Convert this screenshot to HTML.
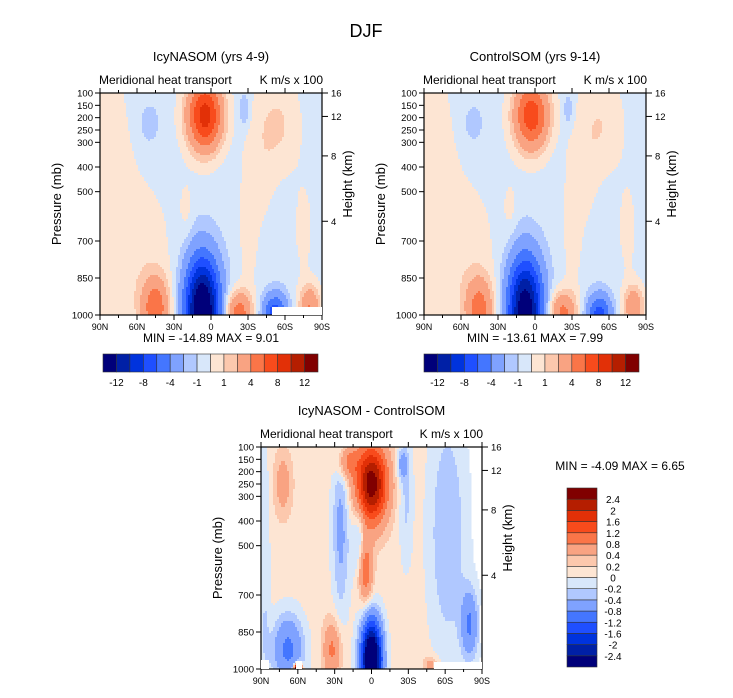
<!DOCTYPE html>
<html><head><meta charset="utf-8">
<style>
body{margin:0;background:#fff;}
svg text{font-family:"Liberation Sans",sans-serif;fill:#000;}
</style></head>
<body>
<svg id="fig" width="733" height="693" viewBox="0 0 733 693" xmlns="http://www.w3.org/2000/svg">
<rect width="733" height="693" fill="#fff"/>
<text x="366" y="37" font-size="18" text-anchor="middle">DJF</text>
<g id="root"></g>
</svg>
<script>
// colour palette (16 classes, low -> high)
const palette = ["#00007a","#0020a6","#0033dd","#1f4fff","#4476ff","#7fa2ff","#b0c8ff","#d8e7fa","#fde5d3","#fcc8ad","#f9a382","#fa7548","#f84b1c","#e23007","#b51e00","#800000"];
// contour level boundaries
const levelsFull = [-12,-10,-8,-6,-4,-2,-1,0,1,2,4,6,8,10,12];
const levelsDiff = [-2.4,-2,-1.6,-1.2,-0.8,-0.4,-0.2,0,0.2,0.4,0.8,1.2,1.6,2,2.4];
const fullLabels = ["-12","-8","-4","-1","1","4","8","12"];
const diffLabels = ["2.4","2","1.6","1.2","0.8","0.4","0.2","0","-0.2","-0.4","-0.8","-1.2","-1.6","-2","-2.4"];
const latTicks = [90,60,30,0,-30,-60,-90];
const latLabels = ["90N","60N","30N","0","30S","60S","90S"];
const presTicks = [100,150,200,250,300,400,500,700,850,1000];
const heightTicks = [16,12,8,4];
const heightPres = [100,195,355,620];
// field features: [lat, pressure, amplitude, lat-width, pressure-width]
const icyBase = -0.5;
const icyBlobs = [[82,550,1.2,12,450],[55,780,1.0,18,250],[-55,230,1.6,12,140],[-40,400,0.8,8,200],[-30,650,1.0,5,220],[20,570,0.8,4,80],[-75,650,0.8,6,150],
[5,190,9.5,10,100],[7,980,-15,10,150],[45,975,5.5,8,90],[-22,990,5.5,8,60],[-52,1000,-7,7,60],[-80,965,4.5,6,60],[50,225,-1.6,5,50],[-27,170,-1.6,3,50]];
const ctlBase = -0.5;
const ctlBlobs = [[82,550,1.2,12,450],[55,780,1.0,18,250],[-55,230,1.4,12,140],[-40,400,0.8,8,200],[-30,650,1.0,5,220],[20,570,0.8,4,80],[-75,650,0.8,6,150],
[3,190,7.8,10,100],[8,980,-13.5,10,150],[45,975,5,8,90],[-22,990,5,8,60],[-52,1000,-6.5,7,60],[-80,965,4,6,60],[50,225,-1.4,5,50],[-27,170,-1.4,3,50]];
const diffBase = 0.1;
const diffBlobs = [[0,250,2.6,9,110],[20,160,0.8,6,50],[0,960,-3.6,6,110],[25,420,-0.6,5,260],[10,470,-0.55,4,120],[5,600,1.1,4,90],[32,920,0.8,5,80],
[68,920,-1.0,9,100],[60,1000,4,2,15],[72,250,0.5,5,90],[-80,820,-0.9,5,100],[-62,450,-0.5,11,350],[-25,170,-0.6,3,40],[-48,985,0.5,4,25],[87,600,-0.3,3,400],[-28,300,-0.35,4,200]];

const NS="http://www.w3.org/2000/svg";
const root=document.getElementById('root');
function mk(tag,attrs,parent){const e=document.createElementNS(NS,tag);for(const k in attrs)e.setAttribute(k,attrs[k]);(parent||root).appendChild(e);return e;}

function field(base,blobs,lat,p){let v=base;for(const b of blobs){const dx=(lat-b[0])/b[3],dy=(p-b[1])/b[4];v+=b[2]*Math.exp(-0.5*(dx*dx+dy*dy));}return v;}
function cls(levels,v){let i=0;while(i<levels.length&&v>=levels[i])i++;return i;}

function panel(name,L,T,W,H,base,blobs,levels,title){
  const g=mk('g',{});
  
  
  const xOf=lat=>L+(90-lat)/180*W;
  const yOf=p=>T+(p-100)/900*H;
  const cs=2;
  const fg=mk('g',{},g);
  
  
  for(let y=0;y<H;y+=cs){
    const p=100+(y+cs/2)/H*900;
    let runStart=0,runC=-1;
    for(let x=0;x<=W;x+=cs){
      let c=-2;
      if(x<W){const lat=90-(x+cs/2)/W*180;c=cls(levels,field(base,blobs,lat,p));}
      if(c!==runC){
        if(runC>=0){const r=mk('rect',{x:L+runStart,y:T+y,width:x-runStart+0.5,height:cs+0.5,fill:palette[runC]},fg);
          
          }
        runStart=x;runC=c;
      }
    }
  }
  const fr=mk('rect',{x:L,y:T,width:W,height:H,fill:'none',stroke:'#000','stroke-width':1.2},g);
  
  
  latTicks.forEach((lt,i)=>{
    const x=xOf(lt);
    mk('line',{x1:x,y1:T+H,x2:x,y2:T+H+5,stroke:'#000'},g);
    mk('line',{x1:x,y1:T,x2:x,y2:T-5,stroke:'#000'},g);
    const t=mk('text',{x:x,y:T+H+15,'font-size':9,'text-anchor':'middle'},g);t.textContent=latLabels[i];
    
    
  });
  for(let lt=75;lt>-90;lt-=15){if(lt%30===0)continue;const x=xOf(lt);
    mk('line',{x1:x,y1:T+H,x2:x,y2:T+H+3,stroke:'#000'},g);mk('line',{x1:x,y1:T,x2:x,y2:T-3,stroke:'#000'},g);}
  presTicks.forEach(p=>{
    const y=yOf(p);
    mk('line',{x1:L,y1:y,x2:L-5,y2:y,stroke:'#000'},g);
    const t=mk('text',{x:L-7,y:y+3.5,'font-size':9.5,'text-anchor':'end'},g);t.textContent=p;
    
    
  });
  heightTicks.forEach((h,i)=>{
    const y=yOf(heightPres[i]);
    mk('line',{x1:L+W,y1:y,x2:L+W+6,y2:y,stroke:'#000'},g);
    const t=mk('text',{x:L+W+9,y:y+3.5,'font-size':9.5},g);t.textContent=h;
    
    
  });
  const yt=mk('text',{x:0,y:0,'font-size':13,'text-anchor':'middle',transform:`translate(${L-39},${T+H/2}) rotate(-90)`},g);yt.textContent='Pressure (mb)';
  
  
  const ht=mk('text',{x:0,y:0,'font-size':13,'text-anchor':'middle',transform:`translate(${L+W+30},${T+H/2-20}) rotate(-90)`},g);ht.textContent='Height (km)';
  
  
  const tt=mk('text',{x:L+W/2,y:T-32,'font-size':13,'text-anchor':'middle'},g);tt.textContent=title;
  
  
  const s1=mk('text',{x:L-1,y:T-9,'font-size':12},g);s1.textContent='Meridional heat transport';
  
  
  const s2=mk('text',{x:L+W+1,y:T-9,'font-size':12,'text-anchor':'end'},g);s2.textContent='K m/s x 100';
  
  
  return g;
}

panel('icynasom-panel',100,93,222,222,icyBase,icyBlobs,levelsFull,'IcyNASOM (yrs 4-9)');
panel('controlsom-panel',424,93,222,222,ctlBase,ctlBlobs,levelsFull,'ControlSOM (yrs 9-14)');
panel('difference-panel',261,447,221,222,diffBase,diffBlobs,levelsDiff,'IcyNASOM - ControlSOM');

[[272,307,50,8],[261,660,8,9],[296,661,6,8],[434,662,48,7]].forEach(r=>{const e=mk('rect',{x:r[0],y:r[1],width:r[2],height:r[3],fill:'#fff'});
  
  });

function minmax(x,y,txt){const t=mk('text',{x:x,y:y,'font-size':12,'text-anchor':'middle','xml:space':'preserve'});t.textContent=txt;
  
  }
minmax(211,342,'MIN = -14.89   MAX =    9.01');
minmax(535,342,'MIN = -13.61   MAX =    7.99');
minmax(620,470,'MIN =   -4.09   MAX =    6.65');

function hbar(name,x0,y0,w,h){
  const g=mk('g',{});
  
  
  const bw=w/palette.length;
  palette.forEach((c,i)=>{const r=mk('rect',{x:x0+i*bw,y:y0,width:bw,height:h,fill:c,stroke:'#333','stroke-width':0.6},g);
    
    });
  fullLabels.forEach((lb,i)=>{const t=mk('text',{x:x0+(2*i+1)*bw,y:y0+h+14,'font-size':10,'text-anchor':'middle'},g);t.textContent=lb;
    
    });
}
hbar('colorbar-top-left',103,354,215,18);
hbar('colorbar-top-right',424,354,215,18);

(function(){
  const g=mk('g',{});
  
  
  const x0=567,y0=488,w=30,h=179,bh=h/palette.length;
  palette.forEach((c,i)=>{const r=mk('rect',{x:x0,y:y0+h-(i+1)*bh,width:w,height:bh,fill:c,stroke:'#333','stroke-width':0.6},g);
    
    });
  diffLabels.forEach((lb,i)=>{const t=mk('text',{x:x0+w+16,y:y0+(i+1)*bh+4,'font-size':10,'text-anchor':'middle'},g);t.textContent=lb;
    
    });
})();
</script>
</body></html>
